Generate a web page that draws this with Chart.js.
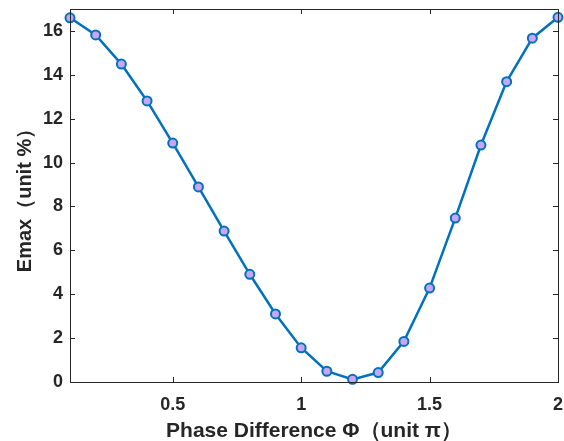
<!DOCTYPE html>
<html>
<head>
<meta charset="utf-8">
<script src="https://cdn.jsdelivr.net/npm/chart.js@4/dist/chart.umd.min.js"></script>
<style>
  html, body { margin: 0; padding: 0; background: #fff; }
  #wrap { width: 564px; height: 441px; }
</style>
</head>
<body>
<div id="wrap"><canvas id="chart" width="564" height="441"></canvas></div>
<script>
// Data
const phase = [0.1, 0.2, 0.3, 0.4, 0.5, 0.6, 0.7, 0.8, 0.9, 1.0,
               1.1, 1.2, 1.3, 1.4, 1.5, 1.6, 1.7, 1.8, 1.9, 2.0];
const emax = [16.6, 15.82, 14.49, 12.81, 10.89, 8.89, 6.88, 4.91, 3.10, 1.56,
              0.49, 0.12, 0.43, 1.85, 4.28, 7.47, 10.80, 13.69, 15.67, 16.62];
const xTicks = [0.5, 1, 1.5, 2];
const yTicks = [0, 2, 4, 6, 8, 10, 12, 14, 16];

const axisColor = '#262626';
const fontFamily = '"Liberation Sans", Arial, sans-serif';

// MATLAB-like box with inward ticks on all four sides
const boxPlugin = {
    id: 'box',
    afterDraw(chart) {
        const { ctx, chartArea: a, scales } = chart;
        ctx.save();
        ctx.strokeStyle = axisColor;
        ctx.lineWidth = 1;
        ctx.strokeRect(a.left + 0.5, a.top + 0.5, a.right - a.left, a.bottom - a.top);
        const len = 5;
        ctx.beginPath();
        xTicks.forEach(v => {
            const x = Math.round(scales.x.getPixelForValue(v)) + 0.5;
            ctx.moveTo(x, a.bottom); ctx.lineTo(x, a.bottom - len);
            ctx.moveTo(x, a.top); ctx.lineTo(x, a.top + len);
        });
        yTicks.forEach(v => {
            const y = Math.round(scales.y.getPixelForValue(v)) + 0.5;
            ctx.moveTo(a.left, y); ctx.lineTo(a.left + len, y);
            ctx.moveTo(a.right, y); ctx.lineTo(a.right - len, y);
        });
        ctx.stroke();
        ctx.restore();
    }
};

new Chart(document.getElementById('chart'), {
    type: 'line',
    data: {
        datasets: [{
            data: phase.map((x, i) => ({ x: x, y: emax[i] })),
            borderColor: '#0072BD',
            borderWidth: 2.5,
            backgroundColor: '#0072BD',
            pointBackgroundColor: '#c9a6f2',
            pointBorderColor: '#0072BD',
            pointBorderWidth: 2,
            pointRadius: 4.5,
            tension: 0,
            clip: false
        }]
    },
    options: {
        responsive: false,
        animation: false,
        layout: { autoPadding: false, padding: { top: 9, right: 6, left: 0, bottom: 0 } },
        plugins: { legend: { display: false }, tooltip: { enabled: false } },
        scales: {
            x: {
                type: 'linear',
                min: 0.1,
                max: 2,
                afterBuildTicks: s => { s.ticks = xTicks.map(v => ({ value: v })); },
                afterFit: s => {
                    s.height = 59;
                    s.paddingLeft = 0;
                    s.paddingRight = 0;
                },
                grid: { display: false, drawTicks: false },
                border: { display: false },
                ticks: {
                    color: axisColor,
                    padding: 12,
                    maxRotation: 0,
                    font: { family: fontFamily, size: 18, weight: 'bold' },
                    callback: v => String(v)
                },
                title: {
                    display: true,
                    text: 'Phase Difference Φ（unit π）',
                    color: axisColor,
                    padding: { top: 0, bottom: -3 },
                    font: { family: fontFamily, size: 21, weight: 'bold' }
                }
            },
            y: {
                min: 0,
                max: 17,
                afterBuildTicks: s => { s.ticks = yTicks.map(v => ({ value: v })); },
                afterFit: s => {
                    s.width = 70;
                    s.paddingTop = 0;
                    s.paddingBottom = 0;
                },
                grid: { display: false, drawTicks: false },
                border: { display: false },
                ticks: {
                    color: axisColor,
                    padding: 7,
                    font: { family: fontFamily, size: 18, weight: 'bold' }
                },
                title: {
                    display: true,
                    text: 'Emax（unit %）',
                    color: axisColor,
                    padding: { top: 13, bottom: 0 },
                    font: { family: fontFamily, size: 20, weight: 'bold' }
                }
            }
        }
    },
    plugins: [boxPlugin]
});
</script>
</body>
</html>
